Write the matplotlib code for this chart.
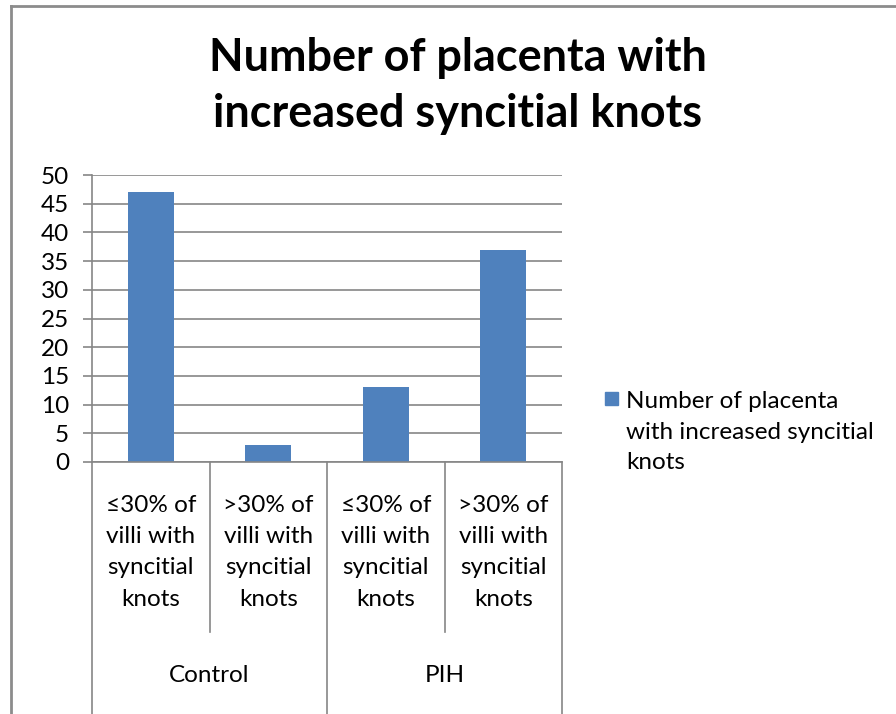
import matplotlib.pyplot as plt
import matplotlib.transforms as mtransforms
from matplotlib.patches import Rectangle
from matplotlib.lines import Line2D

plt.rcParams['font.family'] = ['Lato', 'DejaVu Sans']

groups = ["Control", "PIH"]
sub_labels = ["≤30% of\nvilli with\nsyncitial\nknots",
              ">30% of\nvilli with\nsyncitial\nknots",
              "≤30% of\nvilli with\nsyncitial\nknots",
              ">30% of\nvilli with\nsyncitial\nknots"]
values = [47, 3, 13, 37]
series_name = "Number of placenta\nwith increased syncitial\nknots"
yticks = list(range(0, 51, 5))

bar_color = "#4F81BD"
line_color = "#868686"
fs = 17.5

fig = plt.figure(figsize=(8.96, 7.14), dpi=100)
ax = fig.add_axes([92 / 896, 252 / 714, 470 / 896, 287 / 714])

x = list(range(len(values)))
ax.bar(x, values, width=0.39, color=bar_color, zorder=3)
ax.set_xlim(-0.5, len(values) - 0.5)
ax.set_ylim(0, 50)
ax.set_yticks(yticks)
ax.set_xticks([])
ax.grid(axis='y', color=line_color, linewidth=1.2, zorder=0)
for s in ['top', 'right', 'bottom']:
    ax.spines[s].set_visible(False)
ax.spines['left'].set_color(line_color)
ax.spines['left'].set_linewidth(1.2)
ax.tick_params(axis='y', length=6.5, color=line_color, width=1.2, labelsize=fs, pad=10)

# horizontal axis line
ax.plot([-0.5, len(values) - 0.5], [0, 0], color=line_color, lw=1.2, clip_on=False, zorder=4)

# multi-level category axis
trans = mtransforms.blended_transform_factory(ax.transData, fig.transFigure)
for i, lab in enumerate(sub_labels):
    ax.text(i, 1 - 495 / 714, lab, transform=trans, ha='center', va='top',
            fontsize=fs, linespacing=1.6)
for g, name in enumerate(groups):
    ax.text(2 * g + 0.5, 1 - 676 / 714, name, transform=trans, ha='center', va='center',
            fontsize=fs)
for xs in [-0.5, 0.5, 1.5, 2.5, 3.5]:
    bottom = 0.0 if xs in (-0.5, 1.5, 3.5) else 1 - 632 / 714
    ax.add_line(Line2D([xs, xs], [1 - 462 / 714, bottom], transform=trans,
                       color=line_color, lw=1.2, clip_on=False))

# title
fig.text(458 / 896, 1 - 86 / 714, "Number of placenta with\nincreased syncitial knots",
         ha='center', va='center', fontsize=32.4, fontweight='bold', linespacing=1.43)

# legend
fig.patches.append(Rectangle((605 / 896, 1 - 405 / 714), 13 / 896, 13 / 714,
                             transform=fig.transFigure, color=bar_color))
fig.text(626 / 896, 1 - 391 / 714, series_name, ha='left', va='top',
         fontsize=fs, linespacing=1.57)

# chart border
fig.add_artist(Line2D([11 / 896, 11 / 896], [0, 1 - 6 / 714], transform=fig.transFigure,
                      color="#8c8c8c", lw=2))
fig.add_artist(Line2D([11 / 896, 1], [1 - 6 / 714, 1 - 6 / 714], transform=fig.transFigure,
                      color="#8c8c8c", lw=2))

fig.savefig("out.png", dpi=100)
